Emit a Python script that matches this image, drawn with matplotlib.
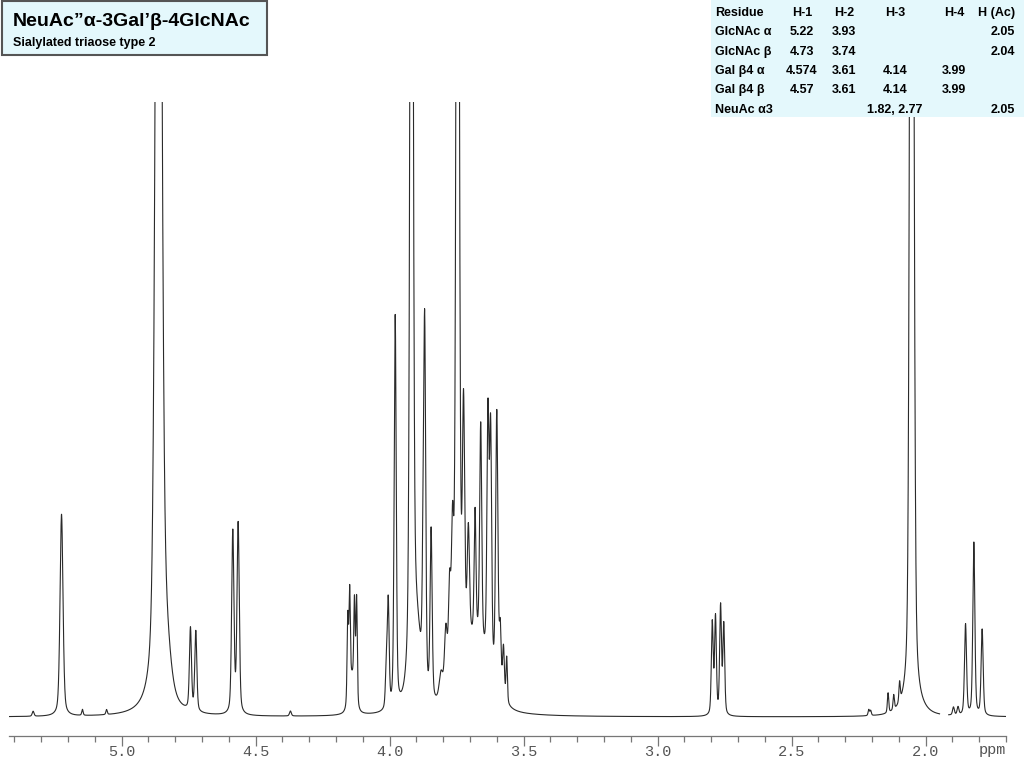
import numpy as np
import matplotlib
matplotlib.use('Agg')
import matplotlib.pyplot as plt
from matplotlib.patches import Rectangle
from matplotlib.ticker import MultipleLocator, FixedLocator

# Peak table:
# chemical shift (ppm), height (pixels above baseline), half width (ppm)
peak_ppm = [5.330, 5.146, 5.056, 5.224,
            4.862, 4.835, 4.743, 4.723, 4.585, 4.565, 4.370,
            4.156, 4.149, 4.131, 4.123, 4.140,
            4.012, 4.005, 3.979, 3.918, 3.900, 3.875, 3.869, 3.845,
            3.808, 3.790, 3.776, 3.765, 3.746, 3.724, 3.706,
            3.681, 3.660, 3.633, 3.623, 3.600, 3.587, 3.575, 3.563, 3.680,
            2.796, 2.784, 2.765, 2.753,
            2.212, 2.205, 2.140, 2.119, 2.097, 2.055, 2.047, 2.050,
            1.896, 1.879, 1.851, 1.820, 1.789]
peak_height = [5, 6, 5, 202,
               1400, 45, 82, 80, 182, 190, 5,
               85, 100, 90, 105, 35,
               40, 105, 392, 1400, 70, 90, 352, 170,
               25, 60, 90, 130, 1400, 235, 110,
               125, 220, 245, 235, 275, 60, 50, 45, 70,
               92, 97, 108, 90,
               6, 5, 20, 15, 20, 1000, 700, 10,
               8, 8, 91, 173, 86]
peak_width = [0.004, 0.003, 0.003, 0.0065,
              0.012, 0.02, 0.0045, 0.0045, 0.005, 0.005, 0.004,
              0.003, 0.003, 0.003, 0.003, 0.012,
              0.004, 0.004, 0.0045, 0.006, 0.02, 0.004, 0.0045, 0.0045,
              0.008, 0.006, 0.005, 0.005, 0.006, 0.005, 0.005,
              0.004, 0.0045, 0.0045, 0.0045, 0.005, 0.004, 0.004, 0.003, 0.06,
              0.004, 0.004, 0.004, 0.004,
              0.003, 0.003, 0.003, 0.003, 0.003, 0.006, 0.006, 0.04,
              0.004, 0.004, 0.0045, 0.0045, 0.0045]

# region cut out of the spectrum (solvent suppression gap)
gap_ppm = (1.948, 1.914)

title = 'NeuAc\u201d\u03b1-3Gal\u2019\u03b2-4GlcNAc'
subtitle = 'Sialylated triaose type 2'

table_header = ['Residue', 'H-1', 'H-2', 'H-3', 'H-4', 'H (Ac)']
table_rows = [
    ['GlcNAc \u03b1', '5.22', '3.93', '', '', '2.05'],
    ['GlcNAc \u03b2', '4.73', '3.74', '', '', '2.04'],
    ['Gal \u03b24 \u03b1', '4.574', '3.61', '4.14', '3.99', ''],
    ['Gal \u03b24 \u03b2', '4.57', '3.61', '4.14', '3.99', ''],
    ['NeuAc \u03b13', '', '', '1.82, 2.77', '', '2.05'],
]

major_ticks = [5.0, 4.5, 4.0, 3.5, 3.0, 2.5, 2.0]

ETA = 0.4  # lorentzian fraction of the pseudo-voigt line shape


def line_shape(x, x0, g):
    d2 = ((x - x0) / g) ** 2
    return ETA / (1 + d2) + (1 - ETA) * np.exp(-np.log(2) * d2)


W, H = 1024, 768
fig = plt.figure(figsize=(W / 100, H / 100), dpi=100)
ax = fig.add_axes([9 / W, 1 - 736 / H, 997 / W, 634 / H])

ppm = np.linspace(5.42, 1.70, 9000)
spec = np.zeros_like(ppm)
for p, h, w in zip(peak_ppm, peak_height, peak_width):
    spec += h * line_shape(ppm, p, w)
spec[(ppm < gap_ppm[0]) & (ppm > gap_ppm[1])] = np.nan

ax.plot(ppm, spec, color='#2a2a2a', linewidth=0.8)
ax.set_xlim(5.42, 1.70)
ax.set_ylim(-19, 615)

for s in ['left', 'right', 'top']:
    ax.spines[s].set_visible(False)
ax.spines['bottom'].set_color('#777777')
ax.spines['bottom'].set_linewidth(0.9)
ax.set_yticks([])
ax.xaxis.set_major_locator(FixedLocator(major_ticks))
ax.xaxis.set_minor_locator(MultipleLocator(0.1))
ax.set_xticklabels([f'{t:.1f}' for t in major_ticks],
                   family='Liberation Mono', fontsize=11, color='#555555')
ax.tick_params(axis='x', which='major', direction='out', length=7,
               width=0.9, color='#777777', pad=-0.5)
ax.tick_params(axis='x', which='minor', direction='out', length=4,
               width=0.9, color='#777777')
fig.text(992 / W, 1 - 750 / H, 'ppm', family='Liberation Mono', fontsize=11,
         color='#555555', ha='center', va='center')

# title box
fill = '#e4f8fc'
fig.patches.append(Rectangle((2 / W, 1 - 55 / H), 265 / W, 54 / H,
                             transform=fig.transFigure, facecolor=fill,
                             edgecolor='#555555', linewidth=1.5, zorder=5))
fig.text(13 / W, 1 - 21 / H, title, family='Liberation Sans', weight='bold',
         fontsize=14, ha='left', va='center', zorder=6)
fig.text(13 / W, 1 - 43 / H, subtitle, family='Liberation Sans', weight='bold',
         fontsize=9, ha='left', va='center', zorder=6)

# shift table
fig.patches.append(Rectangle((711 / W, 1 - 117 / H), 313 / W, 117 / H,
                             transform=fig.transFigure, facecolor=fill,
                             edgecolor='none', zorder=5))
col_x = [715, 802, 844, 895, 954, 1015]
col_ha = ['left', 'center', 'center', 'center', 'center', 'right']
row_y = [13, 32, 52, 71, 90, 110]
for r, row in enumerate([table_header] + table_rows):
    for c, cell in enumerate(row):
        if cell:
            fig.text(col_x[c] / W, 1 - row_y[r] / H, cell,
                     family='Liberation Sans', weight='bold', fontsize=9,
                     ha=col_ha[c], va='center', zorder=6)

fig.savefig('out.png', dpi=100)
